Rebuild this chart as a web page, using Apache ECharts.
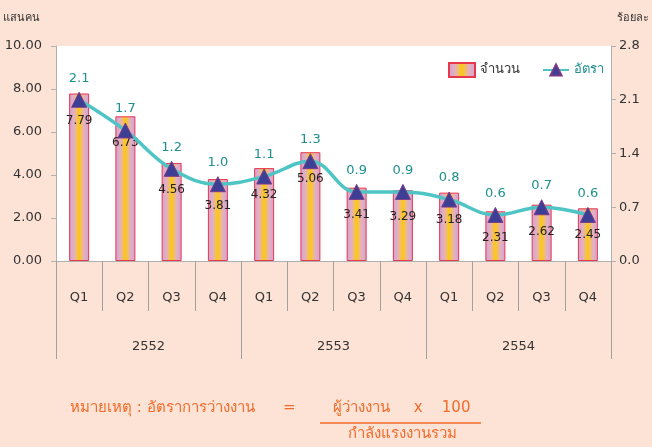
<!DOCTYPE html>
<html>
<head>
<meta charset="utf-8">
<script src="https://cdn.jsdelivr.net/npm/echarts@6/dist/echarts.min.js"></script>
<style>
  html, body { margin: 0; padding: 0; background: #fde3d6; }
  #chart { width: 652px; height: 447px; }
</style>
</head>
<body>
<div id="chart"></div>
<script>
// ข้อมูล
const quarters = ["Q1", "Q2", "Q3", "Q4", "Q1", "Q2", "Q3", "Q4", "Q1", "Q2", "Q3", "Q4"];
const years = ["2552", "2553", "2554"];
const amount = [7.79, 6.73, 4.56, 3.81, 4.32, 5.06, 3.41, 3.29, 3.18, 2.31, 2.62, 2.45]; // แสนคน
const rate = [2.1, 1.7, 1.2, 1.0, 1.1, 1.3, 0.9, 0.9, 0.8, 0.6, 0.7, 0.6]; // ร้อยละ

const font = "Tahoma, 'DejaVu Sans', 'Noto Sans', sans-serif";
const chart = echarts.init(document.getElementById("chart"));

const barFill = new echarts.graphic.LinearGradient(0, 0, 1, 0, [
  { offset: 0, color: "#cfa2d6" },
  { offset: 0.25, color: "#e4b0c0" },
  { offset: 0.42, color: "#f6c24a" },
  { offset: 0.5, color: "#fcc80e" },
  { offset: 0.58, color: "#f6c24a" },
  { offset: 0.75, color: "#e4b0c0" },
  { offset: 1, color: "#cfa2d6" },
]);

const option = {
  backgroundColor: "#fde3d6",
  textStyle: { fontFamily: font },
  legend: {
    left: 443,
    top: 57,
    itemWidth: 26,
    itemHeight: 14,
    itemGap: 22,
    textStyle: { fontSize: 13, fontFamily: font },
    data: [
      { name: "จำนวน", icon: "rect", textStyle: { color: "#333" } },
      { name: "อัตรา", textStyle: { color: "#1f8f8f" } },
    ],
  },
  grid: {
    left: 53,
    right: 30,
    top: 46,
    bottom: 186,
    show: true,
    backgroundColor: "#ffffff",
    borderWidth: 0,
  },
  xAxis: [
    {
      type: "category",
      data: quarters,
      axisLine: { show: true, lineStyle: { color: "#b0b0b0" } },
      axisTick: { show: true, length: 50, lineStyle: { color: "#a0a0a0" } },
      axisLabel: { color: "#333", fontSize: 13, margin: 30, interval: 0 },
    },
    {
      type: "category",
      data: years,
      position: "bottom",
      axisLine: { show: false },
      axisTick: { show: true, length: 98, lineStyle: { color: "#a0a0a0" } },
      axisLabel: { color: "#333", fontSize: 13, margin: 79 },
    },
  ],
  yAxis: [
    {
      type: "value",
      min: 0,
      max: 10,
      interval: 2,
      name: "แสนคน",
      nameLocation: "end",
      nameGap: 22,
      nameTextStyle: { color: "#333", fontSize: 11, align: "right", padding: [0, 16, 0, 0] },
      axisLine: { show: true, lineStyle: { color: "#b0b0b0" } },
      axisTick: { show: true, inside: false, length: 5, lineStyle: { color: "#b0b0b0" } },
      splitLine: { show: false },
      axisLabel: { color: "#333", fontSize: 13, margin: 14, formatter: (v) => v.toFixed(2) },
    },
    {
      type: "value",
      min: 0,
      max: 2.8,
      interval: 0.7,
      position: "right",
      name: "ร้อยละ",
      nameLocation: "end",
      nameGap: 22,
      nameTextStyle: { color: "#333", fontSize: 11, align: "left", padding: [0, 0, 0, 6] },
      axisLine: { show: true, lineStyle: { color: "#b0b0b0" } },
      axisTick: { show: true, length: 5, lineStyle: { color: "#b0b0b0" } },
      splitLine: { show: false },
      axisLabel: { color: "#333", fontSize: 13, margin: 8, formatter: (v) => v.toFixed(1) },
    },
  ],
  series: [
    {
      name: "จำนวน",
      type: "bar",
      data: amount,
      barWidth: 20,
      itemStyle: { color: barFill, borderColor: "#e8364a", borderWidth: 1 },
      label: {
        show: true,
        position: "insideTop",
        distance: 21,
        color: "#222",
        fontSize: 12,
        formatter: (p) => p.value.toFixed(2),
      },
      z: 2,
    },
    {
      name: "อัตรา",
      type: "line",
      yAxisIndex: 1,
      data: rate,
      smooth: 0.4,
      symbol: "triangle",
      symbolSize: 15,
      lineStyle: { color: "#4ec4c4", width: 3.5 },
      itemStyle: { color: "#3d3f95", borderColor: "#7a3a8a", borderWidth: 1 },
      label: {
        show: true,
        position: "top",
        distance: 7,
        color: "#1f8f8f",
        fontSize: 13,
        formatter: (p) => p.value.toFixed(1),
      },
      z: 3,
    },
  ],
  graphic: [
    {
      type: "text",
      left: 70,
      top: 401,
      style: { text: "หมายเหตุ : อัตราการว่างงาน", fill: "#f26b2a", font: "15px " + font },
    },
    {
      type: "text",
      left: 283,
      top: 401,
      style: { text: "=", fill: "#f26b2a", font: "15px " + font },
    },
    {
      type: "text",
      left: 333,
      top: 401,
      style: { text: "ผู้ว่างงาน     x    100", fill: "#f26b2a", font: "15px " + font },
    },
    {
      type: "line",
      shape: { x1: 320, y1: 423, x2: 481, y2: 423 },
      style: { stroke: "#f26b2a", lineWidth: 1.5 },
    },
    {
      type: "text",
      left: 348,
      top: 427,
      style: { text: "กำลังแรงงานรวม", fill: "#f26b2a", font: "15px " + font },
    },
  ],
};

chart.setOption(option);
</script>
</body>
</html>
